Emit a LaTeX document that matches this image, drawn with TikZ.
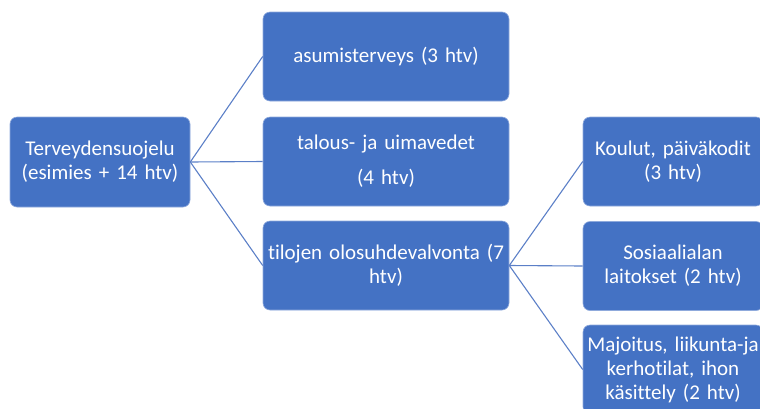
\documentclass[tikz,border=0pt]{standalone}
\usepackage{fontspec}
\setmainfont{Carlito}[Ligatures={NoCommon}]
\definecolor{boxblue}{HTML}{4472C4}
\definecolor{lineblue}{HTML}{5B7FC7}
\tikzset{
  unitbox/.style={rectangle, rounded corners=7pt, fill=boxblue, draw=boxblue!60!white, line width=0.6pt,
    text=white, font=\fontsize{21}{24}\selectfont, align=center, inner sep=2pt},
  sidebox/.style={unitbox, minimum width=180pt, minimum height=90pt, text width=174pt},
  midbox/.style={unitbox, minimum width=246pt, minimum height=89pt, text width=240pt},
  link/.style={draw=lineblue, line width=1.1pt},
}

\begin{document}
\begin{tikzpicture}[x=1pt, y=-1pt]
\useasboundingbox (0,0) rectangle (760,408);
\node[sidebox] (root) at (100,162) {Terveydensuojelu\\(esimies + 14 htv)};
\node[midbox] (asum) at (386,56.5) {asumisterveys (3 htv)};
\node[midbox] (vesi) at (386,161.5) {talous- ja uimavedet\\[11pt](4 htv)};
\node[midbox] (tila) at (386,265.5) {tilojen olosuhdevalvonta (7\\htv)};
\node[sidebox, minimum height=89pt] (koulu) at (673,161.5) {Koulut, päiväkodit\\(3 htv)};
\node[sidebox, minimum height=89pt] (sosi) at (673,266) {Sosiaalialan\\laitokset (2 htv)};
\node[sidebox, minimum height=89pt] (majo) at (673,369.5) {Majoitus, liikunta-ja\\kerhotilat, ihon\\käsittely (2 htv)};
\draw[link] (root.east) -- (asum.west);
\draw[link] (root.east) -- (vesi.west);
\draw[link] (root.east) -- (tila.west);
\draw[link] (tila.east) -- (koulu.west);
\draw[link] (tila.east) -- (sosi.west);
\draw[link] (tila.east) -- (majo.west);
\end{tikzpicture}
\end{document}
